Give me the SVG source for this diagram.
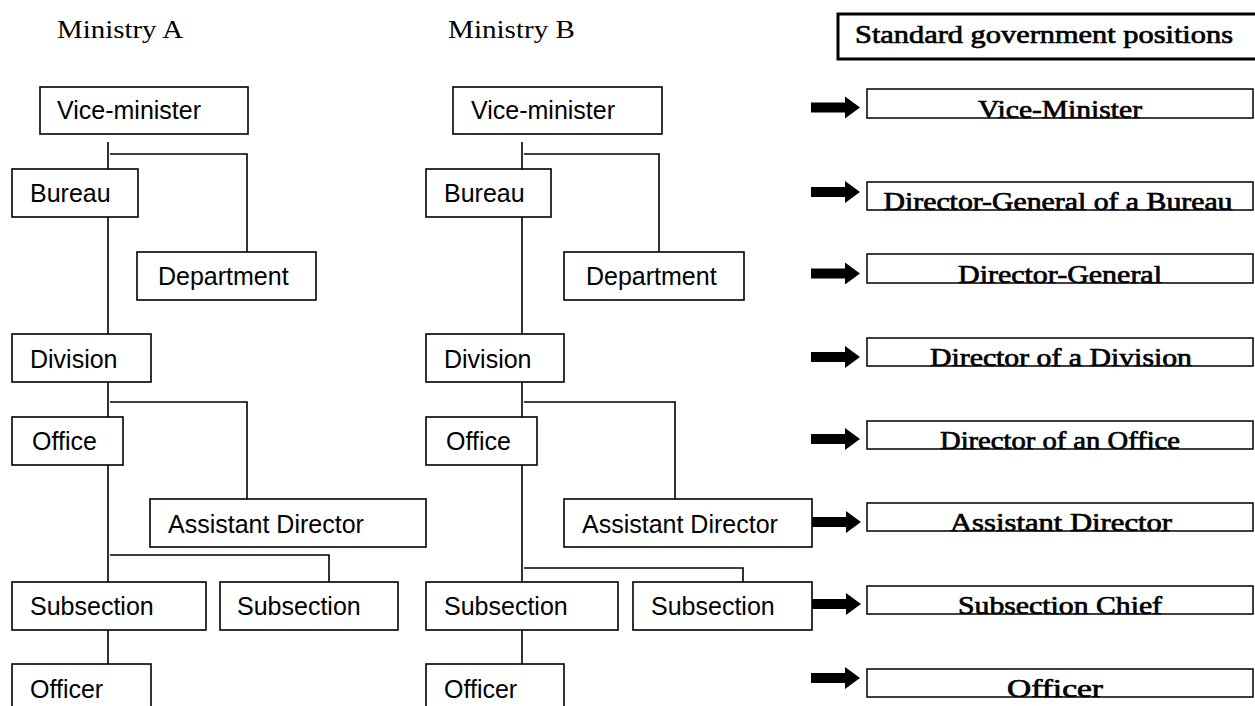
<svg xmlns="http://www.w3.org/2000/svg" width="1255" height="706" viewBox="0 0 1255 706">
<style>
.box{fill:#fff;stroke:#000;stroke-width:1.6}
.t{font-family:"Liberation Sans",Arial,sans-serif;font-size:25px;fill:#000}
.h{font-family:"Liberation Serif","Times New Roman",serif;font-size:26px;fill:#000}
.r{font-family:"Liberation Serif","Times New Roman",serif;font-size:26px;fill:#000;stroke:#000;stroke-width:0.7;text-anchor:middle}
.ln{fill:none;stroke:#000;stroke-width:1.6}
.pbox{fill:#fff;stroke:#000;stroke-width:1.5}
</style>
<defs>
<path id="arr" d="M0,-5 L34,-5 L34,-11 L49,0 L34,11 L34,5 L0,5 Z" fill="#000"/>
</defs>
<rect width="1255" height="706" fill="#fff"/>

<text class="h" x="57" y="38" textLength="126" lengthAdjust="spacingAndGlyphs">Ministry A</text>
<text class="h" x="448" y="38" textLength="127" lengthAdjust="spacingAndGlyphs">Ministry B</text>

<g id="connectors">
<path class="ln" d="M108,142 V169 M110,154 H247 V252 M108,217 V334 M108,382 V417 M110,402 H247 V499 M108,465 V582 M110,555 H329 V582 M108,630 V664"/>
<path class="ln" d="M522,142 V169 M524,154 H659 V252 M522,217 V334 M522,382 V417 M524,402 H675 V499 M522,465 V582 M524,568 H743 V582 M522,630 V664"/>
<use href="#arr" x="811" y="107.5"/>
<use href="#arr" x="811" y="192"/>
<use href="#arr" x="811" y="273.5"/>
<use href="#arr" x="811" y="357"/>
<use href="#arr" x="811" y="439"/>
<use href="#arr" x="812" y="522"/>
<use href="#arr" x="812" y="604"/>
<use href="#arr" x="811" y="678"/>
</g>

<g id="a-vice"><rect class="box" x="40" y="87" width="208" height="47"/><text class="t" x="57" y="119">Vice-minister</text></g>
<g id="a-bureau"><rect class="box" x="12" y="169" width="126" height="48"/><text class="t" x="30" y="202">Bureau</text></g>
<g id="a-department"><rect class="box" x="137" y="252" width="179" height="48"/><text class="t" x="158" y="285">Department</text></g>
<g id="a-division"><rect class="box" x="12" y="334" width="139" height="48"/><text class="t" x="30" y="368">Division</text></g>
<g id="a-office"><rect class="box" x="12" y="417" width="111" height="48"/><text class="t" x="32" y="450">Office</text></g>
<g id="a-assistant"><rect class="box" x="150" y="499" width="276" height="48"/><text class="t" x="168" y="533">Assistant Director</text></g>
<g id="a-subsection1"><rect class="box" x="12" y="582" width="194" height="48"/><text class="t" x="30" y="615">Subsection</text></g>
<g id="a-subsection2"><rect class="box" x="220" y="582" width="178" height="48"/><text class="t" x="237" y="615">Subsection</text></g>
<g id="a-officer"><rect class="box" x="12" y="664" width="139" height="60"/><text class="t" x="30" y="698">Officer</text></g>

<g id="b-vice"><rect class="box" x="453" y="87" width="209" height="47"/><text class="t" x="471" y="119">Vice-minister</text></g>
<g id="b-bureau"><rect class="box" x="426" y="169" width="125" height="48"/><text class="t" x="444" y="202">Bureau</text></g>
<g id="b-department"><rect class="box" x="564" y="252" width="180" height="48"/><text class="t" x="586" y="285">Department</text></g>
<g id="b-division"><rect class="box" x="426" y="334" width="138" height="48"/><text class="t" x="444" y="368">Division</text></g>
<g id="b-office"><rect class="box" x="426" y="417" width="111" height="48"/><text class="t" x="446" y="450">Office</text></g>
<g id="b-assistant"><rect class="box" x="564" y="499" width="248" height="48"/><text class="t" x="582" y="533">Assistant Director</text></g>
<g id="b-subsection1"><rect class="box" x="426" y="582" width="192" height="48"/><text class="t" x="444" y="615">Subsection</text></g>
<g id="b-subsection2"><rect class="box" x="633" y="582" width="179" height="48"/><text class="t" x="651" y="615">Subsection</text></g>
<g id="b-officer"><rect class="box" x="426" y="664" width="138" height="60"/><text class="t" x="444" y="698">Officer</text></g>

<g id="std-header"><rect x="838" y="14" width="430" height="45" fill="#fff" stroke="#000" stroke-width="3"/><text class="r" x="1044" y="43" textLength="378" lengthAdjust="spacingAndGlyphs">Standard government positions</text></g>
<g id="std-1"><rect class="pbox" x="867" y="89" width="386" height="29"/><text class="r" x="1060" y="117.5" textLength="164" lengthAdjust="spacingAndGlyphs">Vice-Minister</text></g>
<g id="std-2"><rect class="pbox" x="867" y="182" width="386" height="28"/><text class="r" x="1058" y="209.5" textLength="349" lengthAdjust="spacingAndGlyphs">Director-General of a Bureau</text></g>
<g id="std-3"><rect class="pbox" x="867" y="254" width="386" height="29"/><text class="r" x="1060" y="282.5" textLength="204" lengthAdjust="spacingAndGlyphs">Director-General</text></g>
<g id="std-4"><rect class="pbox" x="867" y="338" width="386" height="28"/><text class="r" x="1061" y="365.5" textLength="262" lengthAdjust="spacingAndGlyphs">Director  of a Division</text></g>
<g id="std-5"><rect class="pbox" x="867" y="421" width="386" height="28"/><text class="r" x="1060" y="448.5" textLength="240" lengthAdjust="spacingAndGlyphs">Director of an Office</text></g>
<g id="std-6"><rect class="pbox" x="867" y="503" width="386" height="28"/><text class="r" x="1061" y="530.5" textLength="222" lengthAdjust="spacingAndGlyphs">Assistant Director</text></g>
<g id="std-7"><rect class="pbox" x="867" y="586" width="386" height="28"/><text class="r" x="1060" y="613.5" textLength="204" lengthAdjust="spacingAndGlyphs">Subsection Chief</text></g>
<g id="std-8"><rect class="pbox" x="867" y="669" width="386" height="28"/><text class="r" x="1055" y="696.5" textLength="96" lengthAdjust="spacingAndGlyphs">Officer</text></g>
</svg>
